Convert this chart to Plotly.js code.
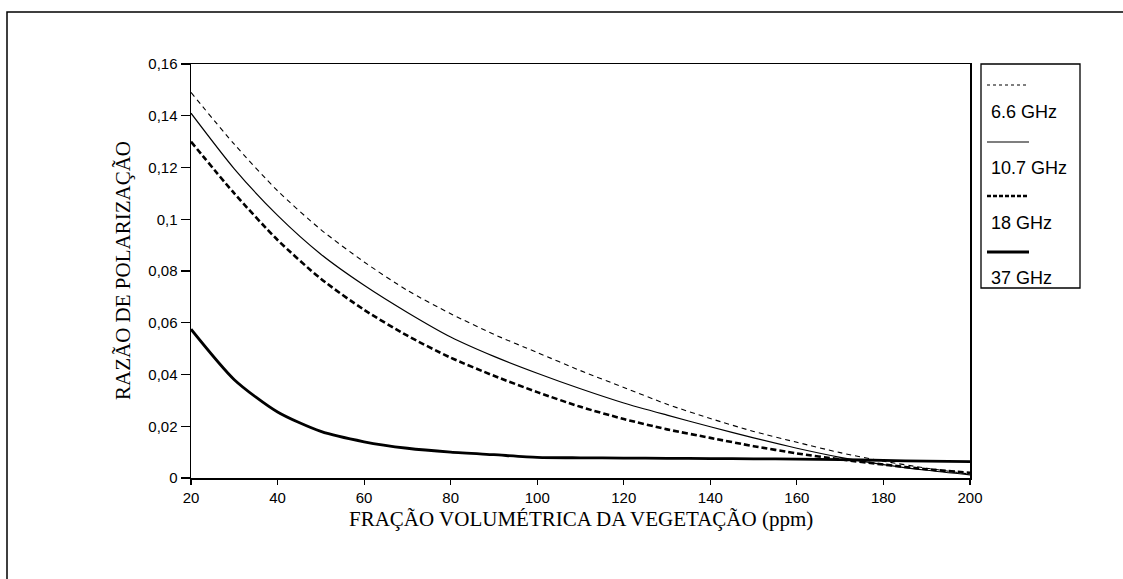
<!DOCTYPE html>
<html>
<head>
<meta charset="utf-8">
<script src="https://cdn.plot.ly/plotly-3.0.1.min.js"></script>
<style>
html,body{margin:0;padding:0;background:#fff;}
#chart{width:1123px;height:579px;}
</style>
</head>
<body>
<div id="chart"></div>
<script>
// ---- data ----
const fraction = [20,30,40,50,60,70,80,90,100,110,120,130,140,150,160,170,180,190,200];
const ghz6_6  = [0.149,0.129,0.111,0.096,0.0835,0.0725,0.0635,0.0555,0.0485,0.0415,0.035,0.0285,0.023,0.018,0.0138,0.0098,0.0065,0.0038,0.0015];
const ghz10_7 = [0.141,0.1195,0.1015,0.0865,0.0745,0.064,0.0545,0.047,0.0405,0.0345,0.029,0.0243,0.0198,0.0155,0.0115,0.008,0.0052,0.003,0.0012];
const ghz18   = [0.130,0.110,0.092,0.077,0.065,0.055,0.0465,0.0395,0.0332,0.0275,0.0228,0.0188,0.0155,0.0123,0.0095,0.0072,0.0052,0.0034,0.002];
const ghz37   = [0.0575,0.038,0.0255,0.018,0.014,0.0115,0.010,0.009,0.008,0.0078,0.0077,0.0076,0.0075,0.0074,0.0073,0.0071,0.0068,0.0065,0.0063];
const seriesNames = ['6.6 GHz','10.7 GHz','18 GHz','37 GHz'];
const xTickVals = [20,40,60,80,100,120,140,160,180,200];
const xTickText = ['20','40','60','80','100','120','140','160','180','200'];
const yTickVals = [0,0.02,0.04,0.06,0.08,0.1,0.12,0.14,0.16];
const yTickText = ['0','0,02','0,04','0,06','0,08','0,1','0,12','0,14','0,16'];
const xTitle = 'FRAÇÃO VOLUMÉTRICA DA VEGETAÇÃO (ppm)';
const yTitle = 'RAZÃO DE POLARIZAÇÃO';

// ---- styles ----
const styles = [
  {width:1.1, dash:'5px,4px'},
  {width:1.2, dash:'solid'},
  {width:2.6, dash:'6px,3px'},
  {width:2.8, dash:'solid'}
];
const seriesData = [ghz6_6, ghz10_7, ghz18, ghz37];

const W = 1123, H = 579;
const L = 191, R = 970, T = 64, B = 478;
const px2x = p => (p - L) / (R - L);
const py2y = p => (B - p) / (B - T);

const traces = seriesData.map((ys, i) => ({
  x: fraction, y: ys, type: 'scatter', mode: 'lines', name: seriesNames[i],
  line: {color: '#000', width: styles[i].width, dash: styles[i].dash, shape: 'spline', smoothing: 0.7},
  showlegend: false, hoverinfo: 'skip'
}));

const shapes = [];
const annotations = [];
// outer frame (open at right/bottom like the scan)
shapes.push({type:'rect', xref:'paper', yref:'paper', x0:px2x(7), x1:px2x(1135), y0:py2y(12), y1:py2y(595),
  line:{color:'#000', width:1.5}, fillcolor:'rgba(0,0,0,0)'});
// legend box
shapes.push({type:'rect', xref:'paper', yref:'paper', x0:px2x(981), x1:px2x(1080), y0:py2y(64), y1:py2y(288),
  line:{color:'#000', width:1.3}, fillcolor:'rgba(0,0,0,0)'});
const legLineY = [85, 142, 196, 252];
const legTextY = [112, 168, 223, 278];
seriesNames.forEach((nm, i) => {
  shapes.push({type:'line', xref:'paper', yref:'paper', x0:px2x(987), x1:px2x(1029), y0:py2y(legLineY[i]), y1:py2y(legLineY[i]),
    line:{color:'#000', width:styles[i].width, dash: i===0 ? '3px,3px' : (i===2 ? '4px,2px' : 'solid')}});
  annotations.push({xref:'paper', yref:'paper', x:px2x(989), y:py2y(legTextY[i]), xanchor:'left', yanchor:'middle',
    text: nm, showarrow:false, font:{family:'"Liberation Sans", Arial, sans-serif', size:18, color:'#000'}});
});
// axis titles
annotations.push({xref:'paper', yref:'paper', x:px2x(581), y:py2y(519), xanchor:'center', yanchor:'middle',
  text:xTitle, showarrow:false, font:{family:'"Liberation Serif", "Times New Roman", serif', size:21, color:'#000'}});
annotations.push({xref:'paper', yref:'paper', x:px2x(123), y:py2y(271), xanchor:'center', yanchor:'middle', textangle:-90,
  text:yTitle, showarrow:false, font:{family:'"Liberation Serif", "Times New Roman", serif', size:21, color:'#000'}});

const axisCommon = {
  showgrid:false, zeroline:false, showline:true, linecolor:'#000', linewidth:1.5, mirror:true,
  ticks:'outside', tickcolor:'#000', tickwidth:1.2,
  tickfont:{family:'"Liberation Sans", Arial, sans-serif', size:15, color:'#000'}, fixedrange:true
};

const layout = {
  width: W, height: H,
  margin: {l:L, r:W-R, t:T, b:H-B, pad:0},
  paper_bgcolor:'#fff', plot_bgcolor:'#fff',
  showlegend:false,
  xaxis: Object.assign({}, axisCommon, {range:[20,200], tickvals:xTickVals, ticktext:xTickText, ticklen:5}),
  yaxis: Object.assign({}, axisCommon, {range:[0,0.16], tickvals:yTickVals, ticktext:yTickText, ticklen:9}),
  shapes: shapes, annotations: annotations
};

Plotly.newPlot('chart', traces, layout, {displayModeBar:false, staticPlot:true});
</script>
</body>
</html>
